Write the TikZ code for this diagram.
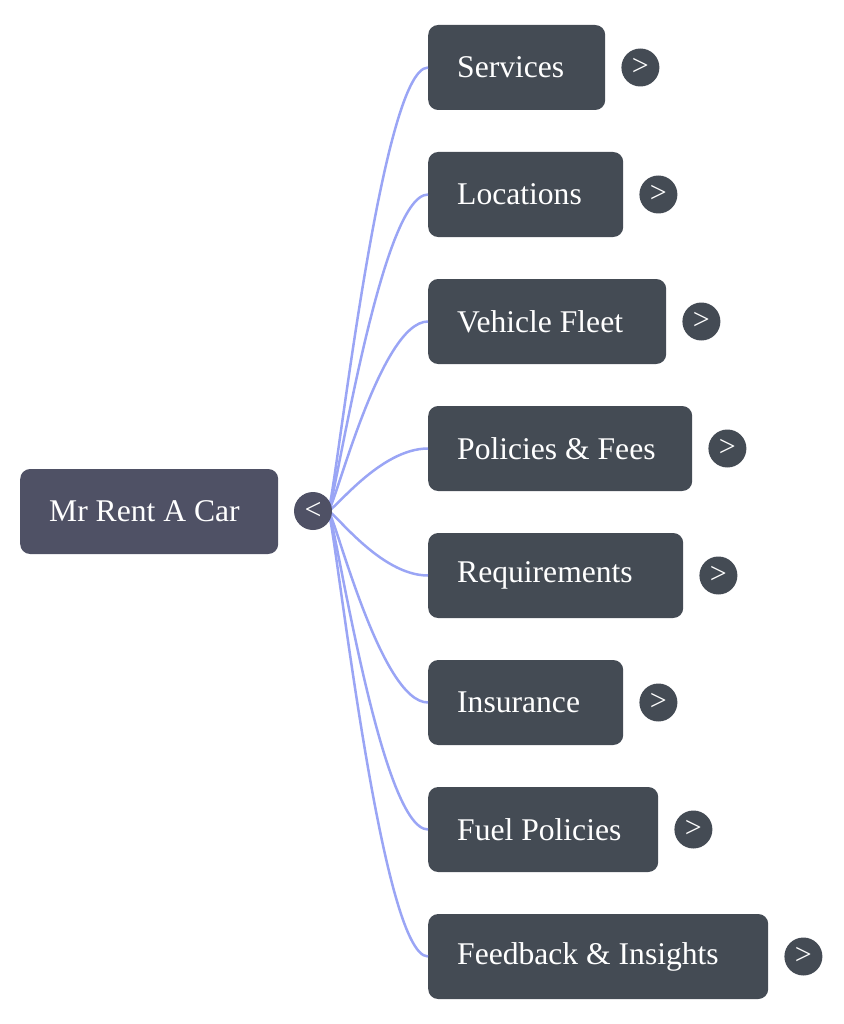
\documentclass[tikz,border=0pt]{standalone}
\usepackage{fontspec}
\setmainfont{Liberation Serif}
\usetikzlibrary{calc}
\definecolor{childfill}{HTML}{444B54}
\definecolor{rootfill}{HTML}{4F5165}
\definecolor{linkcol}{HTML}{9AA5F5}
\tikzset{
  mmbox/.style={rounded corners=10pt, fill=childfill, text=white,
    font=\fontsize{31.6}{36}\selectfont, minimum height=85pt, inner xsep=29pt,
    inner ysep=0pt, anchor=west},
  rootbox/.style={mmbox, fill=rootfill},
  toggle/.style={circle, fill=childfill, text=white, minimum size=38pt,
    inner sep=0pt, font=\fontsize{30}{30}\selectfont},
  roottoggle/.style={toggle, fill=rootfill},
  link/.style={draw=linkcol, line width=2.5pt}
}
\begin{document}
\begin{tikzpicture}[x=1pt,y=-1pt]
\useasboundingbox (0,0) rectangle (843,1024);
\node[rootbox] (root) at (20,511.5) {\makebox[200pt][l]{Mr Rent A Car}};
\foreach \nm/\txt/\w [count=\i from 0] in {
  services/Services/177,
  locations/Locations/195,
  fleet/Vehicle Fleet/238,
  policies/Policies \& Fees/264,
  requirements/Requirements/255,
  insurance/Insurance/195,
  fuel/Fuel Policies/230,
  feedback/Feedback \& Insights/340}{
  \pgfmathsetmacro{\cy}{67.5+127*\i}
  \pgfmathsetmacro{\tw}{\w-58}
  \node[mmbox] (c\nm) at (428,\cy) {\makebox[\tw pt][l]{\txt}};
  \node[toggle] (t\nm) at ($(c\nm.east)+(35,0)$) {\raisebox{1pt}{>}};
}
\coordinate (rs) at (328,511);
\foreach \nm in {services,locations,fleet,policies,requirements,insurance,fuel,feedback}{
  \draw[link] (rs) .. controls ($(rs)+(6,0)$) and ($(c\nm.west)+(-48,0)$) .. (c\nm.west);
}
\node[roottoggle] (rt) at (313,511) {\raisebox{1pt}{<}};
\end{tikzpicture}
\end{document}
